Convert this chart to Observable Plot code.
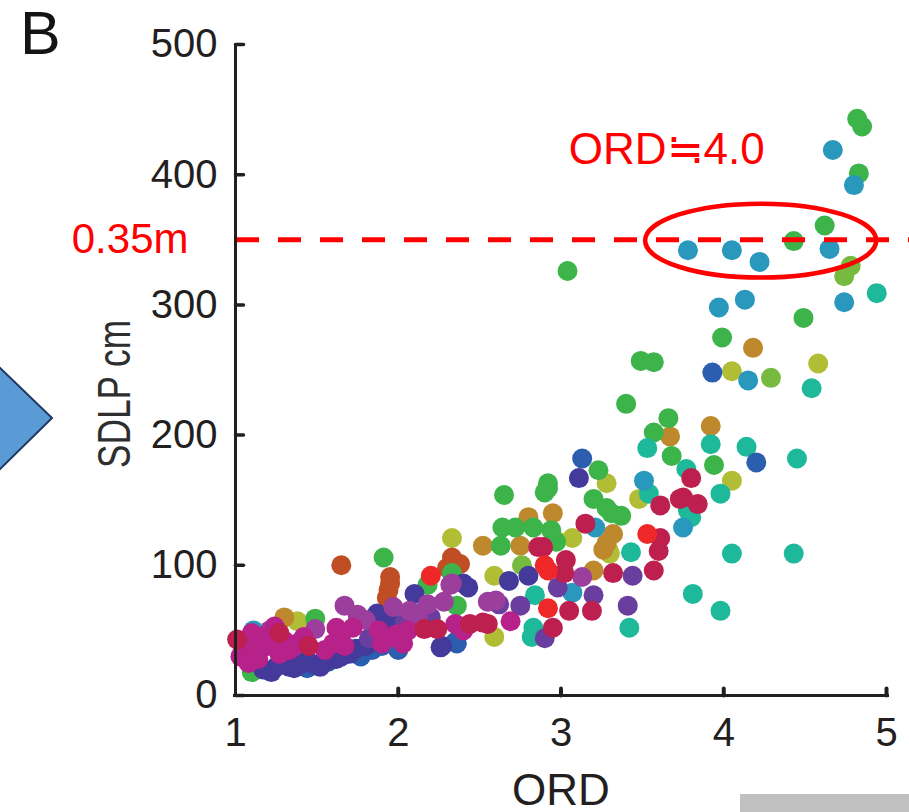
<!DOCTYPE html>
<html><head><meta charset="utf-8">
<script src="https://cdn.jsdelivr.net/npm/d3@7"></script>
<script src="https://cdn.jsdelivr.net/npm/@observablehq/plot@0.6"></script>
<style>
body{margin:0;background:#fff;}
#wrap{position:relative;width:909px;height:812px;overflow:hidden;font-family:"Liberation Sans",Arial,sans-serif;}
#chart{position:absolute;left:0;top:0;}
#arrow{position:absolute;left:0;top:0;}
#panel{position:absolute;left:20px;top:3px;font-size:61px;line-height:1;color:#141414;}
#grey{position:absolute;left:740px;top:794px;width:169px;height:18px;background:#c0c0c0;}
</style></head><body>
<div id="wrap">
  <div id="chart"></div>
  <svg id="arrow" width="60" height="812"><polygon points="-3,365 52,418 -3,472" fill="#5b9bd5" stroke="#1f3864" stroke-width="2"/></svg>
  <div id="panel">B</div>
  <div id="grey"></div>
</div>
<script>
// ---- data: [ORD, SDLP cm] per subject series ----
const seriesNames = ["S01","S02","S03","S04","S05","S06","S07","S08","S09","S10","S11","S12","S13","S14"];
const seriesColors = ["#76bb40","#b1bd35","#bd892c","#c04e24","#3cb44a","#1db99a","#2a98bd","#2b5eae","#433a9b","#6a3e9f","#9b3e9c","#b6228a","#bd1f4f","#ee2828"];

const s01 = [[4.74,322],[4.78,330],[4.29,244],[2.76,100]];
const s02 = [[4.58,255],[4.05,249],[4.05,165],[3.28,163],[3.07,121],[3.30,109],[3.48,151],[2.33,121],[2.59,92],[2.59,45],[1.38,57],[3.29,112],[2.97,119]];
const s03 = [[4.18,267],[3.92,207],[3.67,199],[2.95,140],[2.80,137],[2.52,115],[2.75,115],[3.28,117],[3.26,112],[3.20,96],[3.32,124],[1.30,60]];
const s04 = [[1.65,100],[1.95,91],[1.94,81],[1.93,75],[2.30,98],[2.38,101],[2.33,106],[1.95,86]];
const s05 = [[4.82,443],[4.85,437],[4.83,401],[4.62,361],[4.43,349],[4.49,290],[3.99,275],[3.04,326],[3.49,257],[3.57,256],[3.40,224],[3.66,213],[3.57,202],[3.68,184],[3.94,177],[3.23,173],[2.92,163],[3.20,151],[3.28,144],[3.37,138],[2.94,127],[2.65,154],[2.92,159],[2.90,156],[2.64,129],[2.72,129],[2.83,129],[2.63,115],[2.97,118],[1.91,106],[2.33,94],[2.18,85],[2.36,69],[1.49,59],[1.10,18],[3.31,140]];
const s06 = [[4.94,309],[4.54,236],[3.92,193],[4.14,191],[4.45,182],[3.77,174],[3.53,190],[3.98,155],[3.80,137],[3.78,142],[4.05,109],[4.43,109],[3.81,78],[3.98,65],[3.54,155],[3.43,110],[3.42,52],[2.84,77],[2.83,52],[2.82,45]];
const s07 = [[4.67,419],[4.80,392],[3.78,342],[4.05,342],[4.22,333],[4.65,343],[4.74,302],[3.97,298],[4.13,304],[4.15,242],[3.75,129],[3.51,165],[3.21,129],[3.07,79],[1.11,50]];
const s08 = [[3.93,248],[4.20,179],[3.13,182],[2.35,41],[1.44,21],[1.57,26],[1.77,30],[1.84,35],[1.90,38],[2.36,40],[2.00,35]];
const s09 = [[3.11,167],[2.68,88],[2.80,92],[2.43,83],[2.27,38],[2.26,37],[2.10,78],[1.89,61],[1.83,42],[1.17,20],[1.22,18],[1.25,22],[1.33,22],[1.36,21],[1.40,24],[1.44,27],[1.48,24],[1.52,22],[1.55,26],[1.62,28],[1.65,30],[1.70,32],[1.74,36],[1.80,38],[2.40,86],[1.87,63],[1.92,48],[1.95,58],[2.05,52]];
const s10 = [[3.44,92],[2.98,83],[3.20,77],[2.75,69],[3.41,69],[2.90,44],[1.82,44],[2.04,56],[2.10,63],[2.20,60],[2.62,70]];
const s11 = [[2.32,85],[3.13,91],[2.33,86],[2.55,72],[1.67,69],[1.75,62],[1.80,58],[1.97,68],[2.07,65],[2.12,60],[2.18,70],[2.28,72],[1.49,51],[1.35,37],[1.21,50],[2.60,73]];
const s12 = [[1.03,30],[1.06,40],[1.08,25],[1.10,48],[1.12,35],[1.14,28],[1.16,45],[1.20,38],[1.24,53],[1.27,32],[1.30,42],[1.33,35],[1.38,40],[1.42,45],[1.55,35],[1.60,40],[1.62,52],[1.65,47],[1.67,38],[1.72,52],[1.88,50],[1.90,40],[1.94,44],[1.99,47],[2.03,40],[2.06,50],[2.35,55],[2.40,50],[2.69,57]];
const s13 = [[3.80,167],[3.75,152],[3.84,147],[3.61,146],[3.73,151],[3.15,132],[3.61,121],[3.60,111],[3.03,104],[2.89,114],[2.86,114],[3.02,94],[3.32,94],[3.57,96],[3.05,65],[3.19,65],[2.95,52],[2.44,55],[2.55,55],[2.16,51],[2.24,51],[1.45,38],[1.27,48],[1.01,43],[2.52,56]];
const s14 = [[3.53,124],[2.92,96],[2.92,67],[2.20,92],[2.90,100]];

const xTicks = [1,2,3,4,5];
const yTicks = [0,100,200,300,400,500];
const threshold = 350;
const thresholdLabel = "0.35m";
const noteText = "ORD≒4.0";
const notePos = [3.65, 419];
const ellipseSpec = {cx: 4.23, cy: 349, rx: 0.71, ry: 28.4};

const seriesData = [s01, s02, s03, s04, s05, s06, s07, s08, s09, s10, s11, s12, s13, s14];
const points = seriesData.flatMap((arr, k) => arr.map(([ord, sdlp]) => ({ord, sdlp, s: seriesNames[k]})));

const ink = "#231f20";
const RED = "#ff0000";
const tickShape = {draw(context, l) { context.moveTo(0, 0); context.lineTo(0, -l); }};

function ellipseMark(index, scales) {
  const {x, y} = scales;
  const cx = x(ellipseSpec.cx), cy = y(ellipseSpec.cy);
  const rx = Math.abs(x(ellipseSpec.cx + ellipseSpec.rx) - cx);
  const ry = Math.abs(y(ellipseSpec.cy + ellipseSpec.ry) - cy);
  return d3.create("svg:ellipse")
    .attr("cx", cx).attr("cy", cy).attr("rx", rx).attr("ry", ry)
    .attr("fill", "none").attr("stroke", RED).attr("stroke-width", 4.5).node();
}

const chart = Plot.plot({
  width: 909, height: 812,
  marginLeft: 235, marginRight: 23, marginTop: 44, marginBottom: 117,
  x: {domain: [1, 5]},
  y: {domain: [0, 500]},
  color: {type: "ordinal", domain: seriesNames, range: seriesColors},
  style: {fontFamily: "'Liberation Sans', Arial, sans-serif", background: "transparent", overflow: "visible"},
  marks: [
    Plot.dot(points, {x: "ord", y: "sdlp", fill: "s", r: 10}),
    Plot.ruleY([threshold], {stroke: RED, strokeWidth: 5, strokeDasharray: "23,19", insetLeft: 1, insetRight: -30}),
    ellipseMark,
    Plot.ruleY([0], {stroke: ink, strokeWidth: 3, insetLeft: -2, insetRight: -3}),
    Plot.ruleX([1], {stroke: ink, strokeWidth: 3, insetBottom: -1.5}),
    Plot.vector(xTicks.slice(1), {x: d => d, y: 0, length: 7, anchor: "start", rotate: 0, shape: tickShape, stroke: ink, strokeWidth: 4}),
    Plot.vector(yTicks, {x: 1, y: d => d, length: 8, anchor: "start", rotate: 90, shape: tickShape, stroke: ink, strokeWidth: 3.5}),
    Plot.axisX(xTicks, {tickSize: 0, tickPadding: 22, fontSize: 40, fill: ink, label: null, tickFormat: d => d}),
    Plot.axisY(yTicks, {tickSize: 0, tickPadding: 18, fontSize: 40, fill: ink, label: null, tickFormat: d => d}),
    Plot.text(["ORD"], {frameAnchor: "bottom", dy: 78, lineAnchor: "top", fontSize: 44, fill: ink}),
    Plot.text(["SDLP cm"], {frameAnchor: "left", textAnchor: "middle", dx: -138, dy: 24, rotate: -90, lineAnchor: "top", fontSize: 46, fill: "#2e2e2e"}),
    Plot.text([threshold], {y: d => d, frameAnchor: "left", dx: -47, textAnchor: "end", text: () => thresholdLabel, fontSize: 42, fill: RED}),
    Plot.text([notePos], {x: d => d[0], y: d => d[1], text: () => noteText, fontSize: 44, fill: RED})
  ]
});
// compress the rotated y label to the reference's length
d3.select(chart).selectAll("text").filter(function() { return this.textContent === "SDLP cm"; })
  .attr("textLength", 148).attr("lengthAdjust", "spacingAndGlyphs");
document.getElementById("chart").appendChild(chart);
</script>
</body></html>
